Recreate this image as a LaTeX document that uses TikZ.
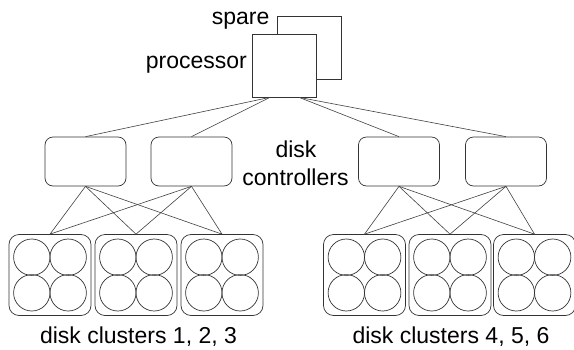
\documentclass[tikz,border=0pt]{standalone}
\usepackage{fontspec}
\setmainfont{Liberation Sans}
\begin{document}
\begin{tikzpicture}[x=1pt,y=-1pt,
  ln/.style={draw=black!80,line width=0.7pt},
  box/.style={ln,fill=white,minimum width=64pt,minimum height=63pt,inner sep=0pt},
  ctrl/.style={ln,rounded corners=8pt,minimum width=81pt,minimum height=49pt,inner sep=0pt},
  cluster/.style={ln,rounded corners=10pt,minimum width=82pt,minimum height=81pt,inner sep=0pt},
  disk/.style={ln,circle,minimum size=36.4pt,inner sep=0pt},
  lbl/.style={font=\fontsize{23}{28}\selectfont,inner sep=0pt},
  wire/.style={draw=black!75,line width=0.6pt}]
\useasboundingbox (0,0) rectangle (574,349);

% processor and its spare
\node[box] (spare) at (309.5,47.5) {};
\node[box] (proc) at (284,65.5) {};
\node[lbl,anchor=base east] (sparelbl) at (269.5,24) {spare};
\node[lbl,anchor=base east] (proclbl) at (247,68) {processor};
\coordinate (pl) at ([xshift=-14pt]proc.south);
\coordinate (pr) at ([xshift=15pt]proc.south);

% disk controllers
\node[ctrl] (c1) at (85.5,161.5) {};
\node[ctrl] (c2) at (191.5,161.5) {};
\node[ctrl] (c3) at (399,161.5) {};
\node[ctrl] (c4) at (506,161.5) {};
\node[lbl,anchor=base] (ctrllbl1) at (296,157) {disk};
\node[lbl,anchor=base] (ctrllbl2) at (295.5,185) {controllers};

% disk clusters, each holding four disks
\foreach \n/\cx in {1/50,2/136,3/222,4/364.5,5/450,6/534.5}{
  \node[cluster] (k\n) at (\cx,275) {};
  \foreach \dx/\dy/\m in {-18.2/-17.8/a,18.2/-17.8/b,-18.2/17.8/c,18.2/17.8/d}
    \node[disk] (k\n\m) at (\cx+\dx,275+\dy) {};
}
\node[lbl,anchor=base] (grp1) at (138.5,343.5) {disk clusters 1, 2, 3};
\node[lbl,anchor=base] (grp2) at (451,343.5) {disk clusters 4, 5, 6};

% processor to controllers
\draw[wire] (pl) -- (c1.north);
\draw[wire] (pl) -- (c2.north);
\draw[wire] (pr) -- (c3.north);
\draw[wire] (pr) -- (c4.north);

% controllers to clusters
\foreach \c in {c1,c2}
  \foreach \k in {k1,k2,k3}
    \draw[wire] (\c.south) -- (\k.north);
\foreach \c in {c3,c4}
  \foreach \k in {k4,k5,k6}
    \draw[wire] (\c.south) -- (\k.north);
\end{tikzpicture}
\end{document}
